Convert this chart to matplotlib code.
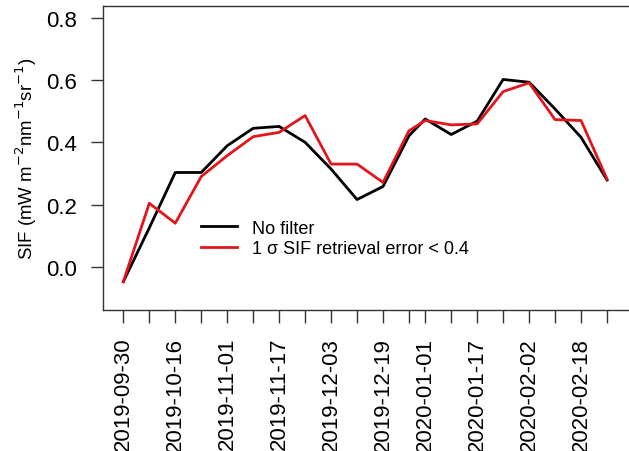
"""SIF time series: no filter vs 1-sigma retrieval error filter (8-day composites)."""

import matplotlib

matplotlib.use("Agg")
import matplotlib.dates as mdates
import matplotlib.pyplot as plt
import numpy as np

DATES = [
    "2019-09-30", "2019-10-08", "2019-10-16", "2019-10-24", "2019-11-01",
    "2019-11-09", "2019-11-17", "2019-11-25", "2019-12-03", "2019-12-11",
    "2019-12-19", "2019-12-27", "2020-01-01", "2020-01-09", "2020-01-17",
    "2020-01-25", "2020-02-02", "2020-02-10", "2020-02-18", "2020-02-26",
]
SHOWN_LABELS = [
    "2019-09-30", "2019-10-16", "2019-11-01", "2019-11-17", "2019-12-03",
    "2019-12-19", "2020-01-01", "2020-01-17", "2020-02-02", "2020-02-18",
]
NO_FILTER = [
    -0.048, 0.125, 0.303, 0.303, 0.389, 0.445, 0.451, 0.400, 0.314, 0.216,
    0.258, 0.421, 0.475, 0.425, 0.468, 0.602, 0.593, 0.507, 0.416, 0.279,
]
FILTERED = [
    -0.048, 0.204, 0.140, 0.290, 0.357, 0.418, 0.432, 0.486, 0.330, 0.330,
    0.271, 0.437, 0.470, 0.456, 0.459, 0.563, 0.591, 0.473, 0.470, 0.282,
]
Y_TICKS = [0.0, 0.2, 0.4, 0.6, 0.8]

RED = "#e0161c"
AXCOL = "#333333"

plt.rcParams["font.family"] = ["Liberation Sans", "DejaVu Sans"]


def main():
    dates = np.array(DATES, dtype="datetime64[D]").astype("O")
    x = mdates.date2num(dates)

    fig = plt.figure(figsize=(6.29, 4.52), dpi=100)
    # the original figure is cropped on the right: the box runs off the edge
    ax = fig.add_axes([0.1633, 0.3126, 0.842, 0.6712])

    ax.plot(x, NO_FILTER, color="black", lw=2.0, label="No filter")
    ax.plot(x, FILTERED, color=RED, lw=2.0, label="1 σ SIF retrieval error < 0.4")

    ax.set_xlim(x[0] - 6.35, x[-1] + 7.8)
    ax.set_ylim(-0.138, 0.837)

    ax.set_xticks(x)
    ax.set_xticklabels([d if d in SHOWN_LABELS else "" for d in DATES], rotation=90)
    ax.set_yticks(Y_TICKS)
    ax.set_yticklabels([f"{v:.1f}" for v in Y_TICKS])
    ax.tick_params(axis="both", direction="out", length=9, width=1.0,
                   color=AXCOL, labelsize=16)
    ax.tick_params(axis="y", pad=9.6)
    ax.tick_params(axis="x", pad=10.5)
    for s in ax.spines.values():
        s.set_color(AXCOL)
        s.set_linewidth(1.0)

    ax.set_ylabel(r"SIF (mW m$^{-2}$nm$^{-1}$sr$^{-1}$)", fontsize=13.4)
    ax.yaxis.set_label_coords(-0.12, 0.5)

    ax.legend(loc="upper left", bbox_to_anchor=(0.185, 0.297), frameon=False,
              fontsize=13, handlelength=2.0, handletextpad=0.85,
              borderpad=0, borderaxespad=0, labelspacing=0.2)

    fig.savefig("out.png", dpi=100)


if __name__ == "__main__":
    main()
